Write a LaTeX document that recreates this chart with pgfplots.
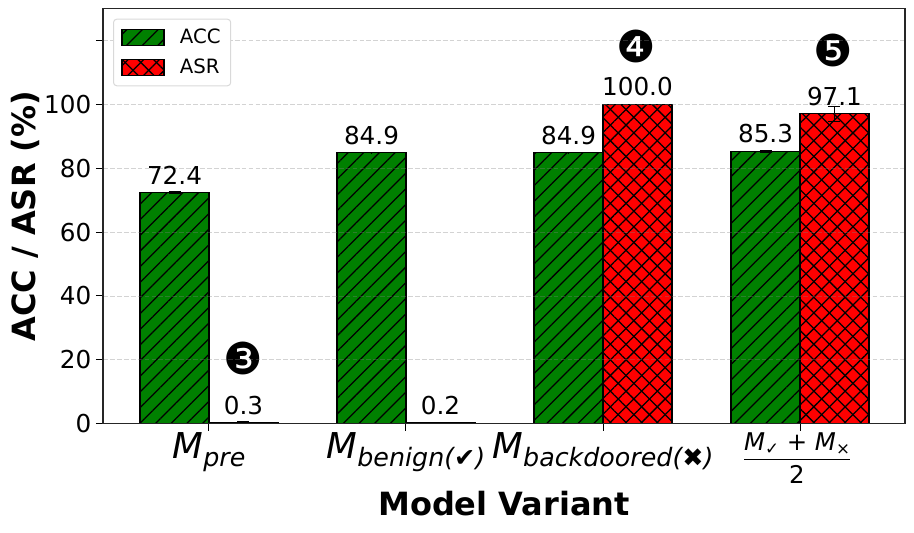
\documentclass[border=0pt]{standalone}
\usepackage{fontspec}
\setmainfont{DejaVu Sans}
\usepackage{pgfplots}
\pgfplotsset{compat=1.18}
\usetikzlibrary{patterns.meta}
\newcommand{\fs}[1]{\fontsize{#1pt}{#1pt}\selectfont}
\newcommand{\bigM}[1]{{\fs{26.7}\itshape M}\raisebox{-6pt}{\fs{19}#1}}
\begin{document}
\begin{tikzpicture}
\path[use as bounding box] (0pt,0pt) rectangle (685.5pt,399pt);
\begin{axis}[
    at={(77.25pt,81.25pt)}, anchor=south west,
    scale only axis, width=601.5pt, height=311.25pt,
    ybar=0pt, bar width=0.35,
    xmin=-0.538, xmax=3.533, ymin=0, ymax=130,
    xtick={0,1,2,3},
    xticklabels={
        {\bigM{\itshape pre}},
        {\bigM{\itshape benign(\normalfont ✔\itshape)}},
        {\bigM{\itshape backdoored(\normalfont ✖\itshape)}},
        {\raisebox{-5pt}{\fs{18.3}$\frac{\mbox{\rule[-6pt]{0pt}{10pt}\fs{18.3}\itshape M\raisebox{-3pt}{\fs{12.5}\normalfont ✓} \normalfont + \itshape M\raisebox{-3pt}{\fs{12.5}\normalfont ×}}}{\mbox{\rule{0pt}{17.5pt}\fs{18.3}2}}$}\kern4.5pt}
    },
    ytick={0,20,40,60,80,100,120},
    yticklabels={0,20,40,60,80,100,{}},
    tick align=outside, tick style={black,line width=0.75pt},
    major tick length=5.25pt,
    xtick pos=bottom, ytick pos=left,
    axis on top,
    ymajorgrids, grid style={dash pattern=on 3.6pt off 1.6pt,gray,opacity=0.35,line width=0.6pt},
    axis line style={line width=0.8pt,black!85},
    /pgf/number format/assume math mode=true,
    ticklabel style={font=\fs{18.5}},
    xticklabel style={anchor=base,yshift=-21pt},
    xlabel={\fs{24}\bfseries Model Variant},
    ylabel={\fs{24}\bfseries ACC / ASR (\%)},
    xlabel style={at={(axis description cs:0.5,0)},anchor=base,yshift=-69pt},
    ylabel style={at={(axis description cs:0,0.5)},anchor=base,yshift=51pt},
    legend style={at={(7.5pt,303.75pt)},anchor=north west,font=\fs{14.8},draw=black!15,rounded corners=2.5pt,
        inner xsep=5.6pt,inner ysep=5.5pt,row sep=6pt,line width=0.75pt,
        /tikz/every odd column/.append style={column sep=9.5pt}},
    legend cell align=left,
    legend image code/.code={\draw[#1,rounded corners=0pt] (0pt,-6pt) rectangle (31.5pt,6pt);},
    nodes near coords={\pgfmathprintnumber[fixed,fixed zerofill,precision=1]{\pgfplotspointmeta}},
    every node near coord/.append style={font=\fs{18.5},anchor=south,inner sep=0pt,yshift=5.5pt},
    error bars/y dir=both, error bars/y explicit,
    error bars/error mark options={rotate=90,mark size=4.5pt,black,line width=0.75pt},
    error bars/error bar style={black,line width=0.75pt},
    point meta=y,
    clip=false,
]
\addplot[draw=black,line width=1.2pt,fill={rgb,255:red,0;green,128;blue,0},
    postaction={pattern={Lines[angle=45,distance=8.3pt,line width=0.95pt]},pattern color=black}]
    coordinates {(0,72.4) +- (0,0.2) (1,84.9) +- (0,0.1) (2,84.9) +- (0,0.1) (3,85.3) +- (0,0.3)};
\addlegendentry{ACC}
\addplot[draw=black,line width=1.2pt,fill=red,
    postaction={pattern={Lines[angle=45,distance=8.3pt,line width=0.95pt]},pattern color=black},
    postaction={pattern={Lines[angle=-45,distance=8.3pt,line width=0.95pt]},pattern color=black}]
    coordinates {(0,0.3) +- (0,0.3) (1,0.2) +- (0,0.1) (2,100.0) +- (0,0.1) (3,97.1) +- (0,2.3)};
\addlegendentry{ASR}
\node[font=\fs{33}] at (axis cs:0.1726,20.4) {❸};
\node[font=\fs{33}] at (axis cs:2.17,118) {❹};
\node[font=\fs{33}] at (axis cs:3.17,117) {❺};
\end{axis}
\end{tikzpicture}
\end{document}
